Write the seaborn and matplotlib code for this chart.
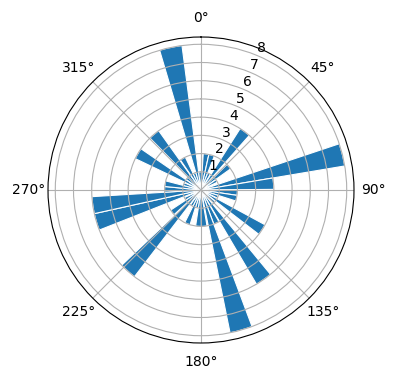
import numpy as np
import matplotlib
matplotlib.use("Agg")
import matplotlib.pyplot as plt
import seaborn as sns

# bar centre angles (degrees, clockwise from north) and bar lengths (counts)
angles_deg = [8, 17, 26, 37, 50, 60, 76, 85, 94, 103, 112, 123, 133, 145, 155,
              164, 175, 184, 193, 202, 211, 222, 232, 241, 253, 262, 271, 280,
              289, 300, 310, 320, 330, 339, 348, 357]
counts = [2, 2, 1, 4, 2, 1, 8, 4, 2, 2, 1, 4, 1, 6, 2,
          8, 2, 2, 1, 2, 1, 6, 2, 1, 6, 6, 2, 2,
          1, 4, 1, 4, 2, 1, 8, 1]
bar_width_deg = 9
r_ticks = [1, 2, 3, 4, 5, 6, 7, 8]

color = sns.color_palette()[0]

fig = plt.figure(figsize=(3.96, 3.80), dpi=100)
R = 153
ax = fig.add_axes([(201 - R) / 396, (380 - 190 - R) / 380, 2 * R / 396, 2 * R / 380],
                  projection="polar")
ax.set_theta_zero_location("N")
ax.set_theta_direction(-1)

ax.bar(np.deg2rad(angles_deg), counts, width=np.deg2rad(bar_width_deg),
       color=color, edgecolor="white", linewidth=0.8)
ax.set_ylim(0, 8.4)
ax.set_yticks(r_ticks)
ax.set_yticklabels([str(t) for t in r_ticks])
ax.set_rlabel_position(22.5)
ax.grid(True, color="#b0b0b0", linewidth=0.8)

fig.savefig("out.png", dpi=100)
